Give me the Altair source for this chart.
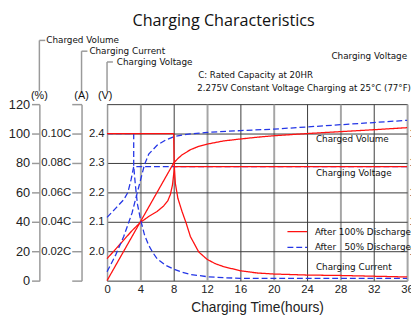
import altair as alt
import pandas as pd

# ---------------- data ----------------
series_names = ["After 100% Discharge", "After\u2007 50% Discharge"]

# Charged volume (%)
red_vol_h = [0, 8, 8.5, 9, 10, 11, 12, 14, 16, 18, 20, 24, 28, 32, 36]
red_vol_v = [0, 80, 83, 85.5, 89, 91.3, 92.8, 95, 96.3, 97.5, 98.5, 100, 101.3, 102.6, 104]
blue_vol_h = [0, 1, 2, 3, 3.5, 4, 4.5, 5, 6, 7, 8, 9, 10, 12, 16, 20, 24, 28, 32, 36]
blue_vol_v = [6, 17, 30, 46, 57, 68, 79, 86, 92, 95.5, 97.8, 99, 99.8, 100.8, 102, 103, 104.5, 106, 107.5, 109]

# Charging current (C)
red_cur_h = [0, 8, 8.05, 8.2, 8.5, 9, 9.5, 10, 11, 12, 13, 14, 16, 18, 20, 24, 28, 32, 36]
red_cur_v = [0.1, 0.1, 0.08, 0.066, 0.056, 0.047, 0.039, 0.030, 0.0195, 0.0145, 0.0115, 0.0095,
             0.0067, 0.0052, 0.0045, 0.0038, 0.0035, 0.003, 0.0025]
blue_cur_h = [0, 3.2, 3.2, 3.4, 3.65, 4, 4.5, 5, 5.5, 6, 7, 8, 9, 10, 12, 14, 16, 20, 36]
blue_cur_v = [0.1, 0.1, 0.078, 0.065, 0.052, 0.042, 0.031, 0.024, 0.019, 0.015, 0.0105, 0.0078,
              0.0057, 0.0042, 0.0027, 0.002, 0.0016, 0.0015, 0.0015]

# Charging voltage (V per cell)
red_volt_h = [0, 1, 2, 3, 4, 5, 6, 6.8, 7.3, 7.6, 7.85, 8.0, 8.1, 36]
red_volt_v = [1.975, 2.006, 2.038, 2.07, 2.098, 2.118, 2.135, 2.154, 2.172, 2.193, 2.225, 2.262, 2.2875, 2.2875]
blue_volt_h = [0, 1, 2, 2.5, 2.9, 3.2, 36]
blue_volt_v = [2.115, 2.145, 2.175, 2.2, 2.245, 2.2875, 2.2875]

# axis ticks
x_ticks = list(range(0, 37, 4))
pct_ticks = [0, 20, 40, 60, 80, 100, 120]
cur_ticks = [0, 0.02, 0.04, 0.06, 0.08, 0.10, 0.12]
volt_ticks = [2.0, 2.1, 2.2, 2.3, 2.4]
right_ticks = [12.0, 12.6, 13.2, 13.8, 14.4]

# ---------------- styling ----------------
RED = "#ff1010"
BLUE = "#2436e6"
GRAY = "#9a9a9a"
DARK = "#3a3a3a"
LABEL_FONT = "Liberation Sans"
NOTE_FONT = "DejaVu Sans"


def frame(h, v, s):
    return pd.DataFrame({"hours": h, "value": v, "series": s, "i": list(range(len(h)))})


color_scale = alt.Scale(domain=series_names, range=[RED, BLUE])
dash_scale = alt.Scale(domain=series_names, range=[[1, 0], [6, 3]])
legend = alt.Legend(title=None, orient="none", legendX=183, legendY=119, symbolType="stroke",
                    symbolSize=400, symbolStrokeWidth=1.3, labelFont=NOTE_FONT, labelFontSize=9,
                    labelColor="#111", labelOffset=7, rowPadding=-4, padding=0)

x_enc = alt.X("hours:Q", scale=alt.Scale(domain=[0, 36], nice=False),
              axis=alt.Axis(values=x_ticks, title="Charging Time(hours)", titleFont=LABEL_FONT,
                            titleFontSize=14, titleFontWeight="normal", titleColor="#222",
                            labelFont=LABEL_FONT, labelFontSize=11.5, labelColor="#222",
                            labelPadding=3, ticks=False, domain=False, grid=True,
                            gridColor={"condition": {"test": "datum.value % 8 === 4", "value": "#a5a5a5"},
                                       "value": DARK},
                            gridWidth={"condition": {"test": "datum.value % 8 === 4", "value": 2},
                                       "value": 1},
                            labelFlush=False, labelOverlap=False, titlePadding=6))


def lines(df, yscale, yaxis):
    return alt.Chart(df).mark_line(strokeWidth=1.3).encode(
        x=x_enc,
        y=alt.Y("value:Q", scale=yscale, axis=yaxis),
        color=alt.Color("series:N", scale=color_scale, legend=legend),
        strokeDash=alt.StrokeDash("series:N", scale=dash_scale, legend=legend),
        order=alt.Order("i:Q"),
    )


volt_axis = alt.Axis(orient="left", values=volt_ticks, format=".1f", grid=True, gridColor=DARK,
                     gridWidth=1, ticks=False, domainColor=GRAY, domainWidth=1.5, labelPadding=3,
                     labelFont=LABEL_FONT, labelFontSize=11.5, labelColor="#222", title=None,
                     labelFlush=False, labelOverlap=False)
pct_axis = alt.Axis(orient="left", offset=69, values=pct_ticks, grid=False, tickSize=8,
                    tickColor=GRAY, tickWidth=1.5, domainColor=GRAY, domainWidth=1.5, labelPadding=2,
                    labelFont=LABEL_FONT, labelFontSize=13, labelColor="#222", title=None,
                    labelFlush=False, labelOverlap=False)
cur_axis = alt.Axis(orient="left", offset=26, values=cur_ticks, grid=False, tickSize=10,
                    tickColor=GRAY, tickWidth=1.5, domainColor=GRAY, domainWidth=1.5, labelPadding=1,
                    labelFont=LABEL_FONT, labelFontSize=11.5, labelColor="#222", title=None,
                    labelExpr="(datum.value > 0.001 && datum.value < 0.11) ? format(datum.value, '.2f') + 'C' : ''",
                    labelFlush=False, labelOverlap=False)
right_axis = alt.Axis(orient="right", values=right_ticks, format=".1f", grid=False, ticks=False,
                      domain=False, labelPadding=2, labelFont=LABEL_FONT, labelFontSize=11.5,
                      labelColor="#222", title=None, labelFlush=False, labelOverlap=False)

volt_scale = alt.Scale(domain=[1.9, 2.5], nice=False, zero=False)
pct_scale = alt.Scale(domain=[0, 120], nice=False)
cur_scale = alt.Scale(domain=[0, 0.12], nice=False)

volt_layer = alt.layer(
    lines(frame(blue_volt_h, blue_volt_v, series_names[1]), volt_scale, volt_axis),
    lines(frame(red_volt_h, red_volt_v, series_names[0]), volt_scale, volt_axis),
)
vol_layer = alt.layer(
    lines(frame(blue_vol_h, blue_vol_v, series_names[1]), pct_scale, pct_axis),
    lines(frame(red_vol_h, red_vol_v, series_names[0]), pct_scale, pct_axis),
)
cur_layer = alt.layer(
    lines(frame(blue_cur_h, blue_cur_v, series_names[1]), cur_scale, cur_axis),
    lines(frame(red_cur_h, red_cur_v, series_names[0]), cur_scale, cur_axis),
)
right_layer = alt.Chart(pd.DataFrame({"v": right_ticks})).mark_point(opacity=0).encode(
    y=alt.Y("v:Q", scale=alt.Scale(domain=[11.4, 15.0], nice=False, zero=False), axis=right_axis)
)


def note(text, px, py, size=9, font=NOTE_FONT, align="left", color="#111"):
    return alt.Chart(pd.DataFrame({"t": [text]})).mark_text(
        align=align, baseline="middle", font=font, fontSize=size, color=color
    ).encode(text="t:N", x=alt.value(px), y=alt.value(py))


def rule(x, y, x2=None, y2=None):
    enc = {"x": alt.value(x), "y": alt.value(y)}
    if x2 is not None:
        enc["x2"] = alt.value(x2)
    if y2 is not None:
        enc["y2"] = alt.value(y2)
    return alt.Chart(pd.DataFrame({"a": [0]})).mark_rule(color=GRAY, strokeWidth=1.5).encode(**enc)


decor = [
    note("Charging Characteristics", 26, -85, size=16.5, font="Open Sans"),
    # bracket labels at the top left
    rule(-69, -65, y2=-13), rule(-69, -65, x2=-63),
    rule(-26, -54, y2=-13), rule(-26, -54, x2=-20),
    rule(0, -43, y2=-13), rule(0, -43, x2=6),
    note("Charged Volume", -62, -65),
    note("Charging Current", -18, -54),
    note("Charging Voltage", 10, -43),
    note("(%)", -69, -8, size=11, font=LABEL_FONT, align="center"),
    note("(A)", -26, -8, size=11, font=LABEL_FONT, align="center"),
    note("(V)", -2, -8, size=11, font=LABEL_FONT, align="center"),
    # top right notes
    note("Charging Voltage", 306, -49, align="right"),
    note("C: Rated Capacity at 20HR", 93, -30, size=8.8),
    note("2.275V Constant Voltage Charging at 25\u00b0C (77\u00b0F)", 92, -16, size=8.8),
    # in-plot curve labels
    note("Charged Volume", 213, 36),
    note("Charging Voltage", 213, 70),
    note("Charging Current", 213, 166),
]

chart = alt.layer(volt_layer, vol_layer, cur_layer, right_layer, *decor).resolve_scale(
    y="independent"
).properties(
    width=306,
    height=180,
    autosize=alt.AutoSizeParams(type="none"),
    padding={"left": 101, "top": 95, "right": 4, "bottom": 32},
    background="white",
).configure_view(stroke=DARK, strokeWidth=1)

chart.save("out.html", embed_options={"renderer": "svg", "actions": False})
